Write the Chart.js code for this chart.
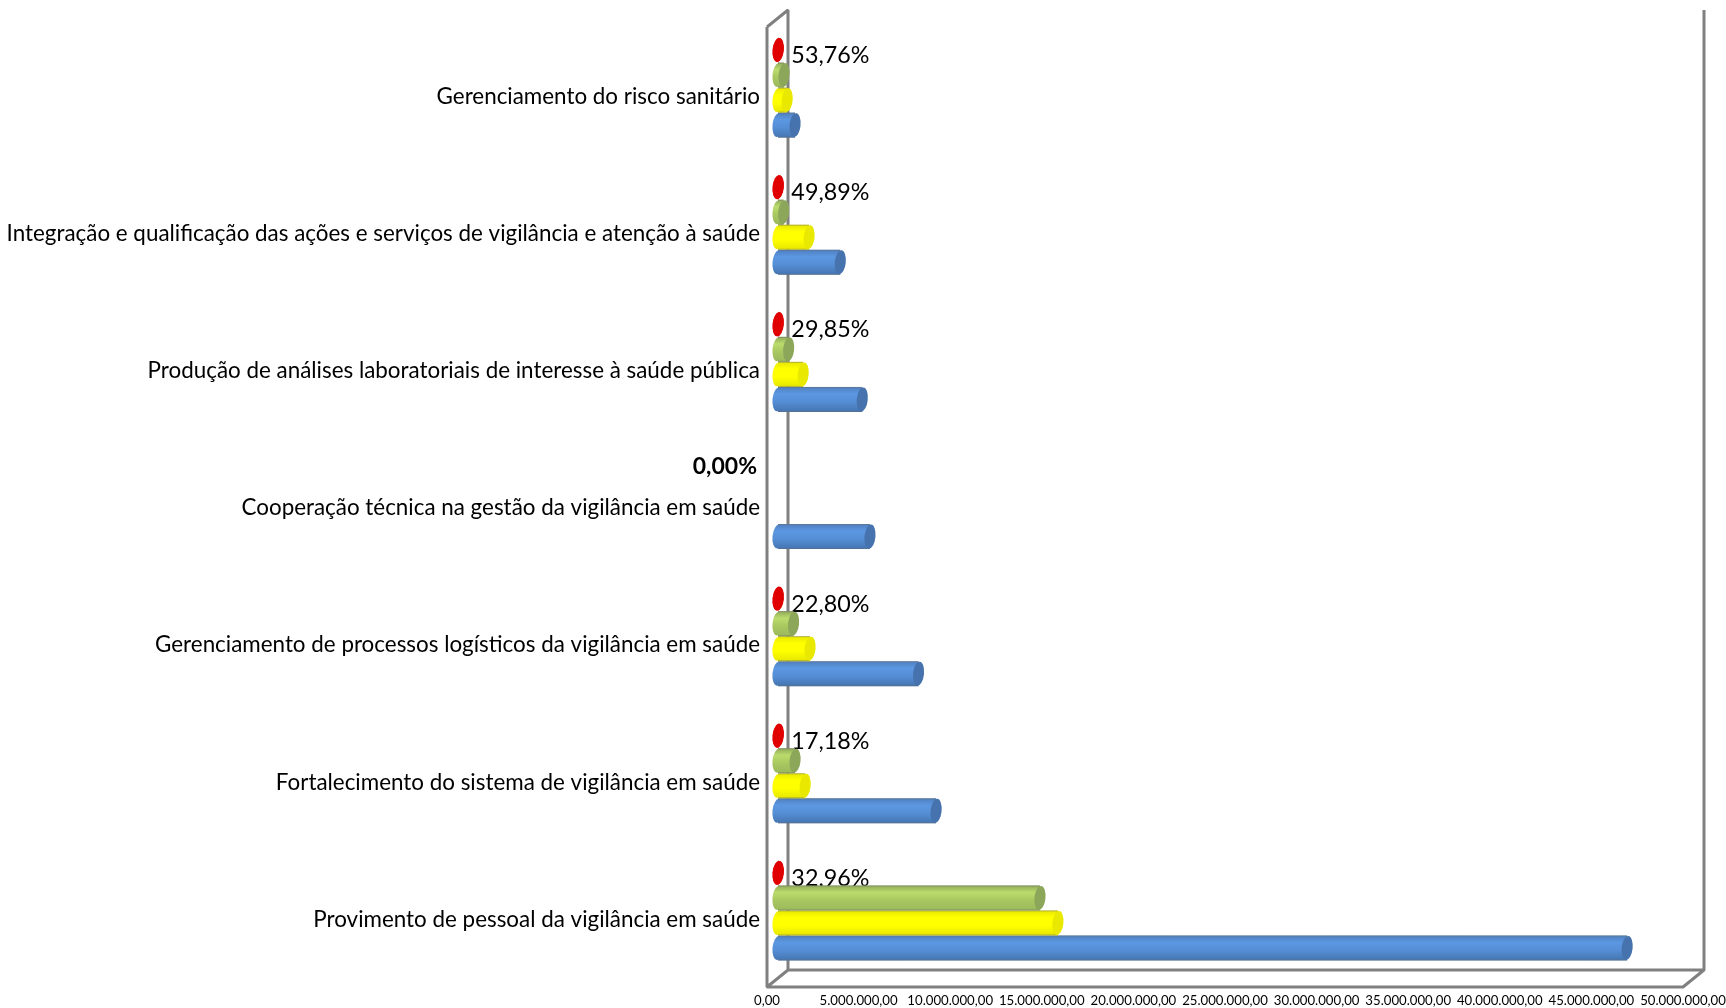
<!DOCTYPE html>
<html><head><meta charset="utf-8">
<script src="https://cdn.jsdelivr.net/npm/chart.js@4"></script>
<style>html,body{margin:0;padding:0;background:#fff}canvas{display:block}</style>
</head><body><canvas id="c" width="1726" height="1008"></canvas>
<script>
const categories = [
  "Gerenciamento do risco sanitário",
  "Integração e qualificação das ações e serviços de vigilância e atenção à saúde",
  "Produção de análises laboratoriais de interesse à saúde pública",
  "Cooperação técnica na gestão da vigilância em saúde",
  "Gerenciamento de processos logísticos da vigilância em saúde",
  "Fortalecimento do sistema de vigilância em saúde",
  "Provimento de pessoal da vigilância em saúde"
];
const blueValues   = [930000, 3400000, 4600000, 5020000, 7670000, 8630000, 46350000];
const yellowValues = [500000, 1696000, 1373000, 0, 1749000, 1483000, 15280000];
const greenValues  = [330000, 310000, 580000, 0, 850000, 930000, 14300000];
const redValues    = [20000, 20000, 20000, 0, 20000, 20000, 20000];
const pctLabels = ["53,76%","49,89%","29,85%","0,00%","22,80%","17,18%","32,96%"];
const xTicks = [0,5,10,15,20,25,30,35,40,45,50].map(m => m * 1000000);
const seriesColors = {
  red:    ["#c80000","#f00000","#d80000","#e00000"],
  green:  ["#8fa85a","#bbdc6c","#a8c860","#9bb85c"],
  yellow: ["#e6e600","#ffff00","#ffff00","#e6e600"],
  blue:   ["#4f7fbe","#5c97e2","#558ed5","#4474b0"]
};
const capColors = {red:"#e00000",green:"#8ca75a",yellow:"#e8e800",blue:"#4673ad"};
const FONT = "Lato";
const depth = {x: 11, y: -9};
function fmt(v){
  const s = Math.round(v).toString().replace(/\B(?=(\d{3})+$)/g,".");
  return s + ",00";
}
function wall(chart){
  const {ctx, chartArea:a} = chart;
  const dx = 21, dy = -17;
  ctx.save();
  ctx.translate(0, -1);
  ctx.strokeStyle = "#808080"; ctx.lineWidth = 3; ctx.lineJoin = "bevel";
  ctx.beginPath();
  ctx.moveTo(a.left, a.top); ctx.lineTo(a.left, a.bottom); ctx.lineTo(a.right, a.bottom);
  ctx.lineTo(a.right+dx, a.bottom+dy); ctx.lineTo(a.right+dx, a.top+dy);
  ctx.moveTo(a.right+dx, a.bottom+dy); ctx.lineTo(a.left+dx, a.bottom+dy);
  ctx.lineTo(a.left, a.bottom);
  ctx.moveTo(a.left+dx, a.bottom+dy); ctx.lineTo(a.left+dx, a.top+dy); ctx.lineTo(a.left, a.top);
  ctx.stroke();
  ctx.restore();
}
function ell(ctx, x, y, rx, ry, fill){
  ctx.beginPath();
  ctx.ellipse(x, y, rx, ry, 0.1, 0, Math.PI*2);
  ctx.fillStyle = fill; ctx.fill();
}
const cylinder = {
  id: "cylinder",
  beforeDatasetsDraw(chart){
    wall(chart);
    const {ctx} = chart;
    const red = chart.getDatasetMeta(0).data;
    ctx.save();
    ctx.fillStyle = "#000"; ctx.textBaseline = "middle";
    pctLabels.forEach((t,i) => {
      const b = red[i];
      if (t === "0,00%"){
        ctx.font = "bold 23px " + FONT; ctx.textAlign = "right";
        ctx.fillText(t, b.x + depth.x - 21, b.y + depth.y + 5);
      } else {
        ctx.font = "23.3px " + FONT; ctx.textAlign = "left";
        ctx.fillText(t, b.x + depth.x + 13, b.y + depth.y + 5.5);
      }
    });
    ctx.restore();
    chart.data.datasets.forEach((ds,di) => {
      const cols = seriesColors[ds.key];
      chart.getDatasetMeta(di).data.forEach(b => {
        const h = b.height;
        const g = ctx.createLinearGradient(0, b.y-h/2, 0, b.y+h/2);
        g.addColorStop(0, cols[0]); g.addColorStop(0.28, cols[1]);
        g.addColorStop(0.6, cols[2]); g.addColorStop(1, cols[3]);
        b.options = Object.assign({}, b.options, {backgroundColor: g});
      });
    });
    ctx.save();
    ctx.translate(depth.x, depth.y);
  },
  beforeDatasetDraw(chart, args){
    const ds = chart.data.datasets[args.index];
    const {ctx} = chart;
    chart.getDatasetMeta(args.index).data.forEach((b,i) => {
      if (!ds.data[i]) return;
      const ry = b.height/2 - 0.5;
      ell(ctx, b.base, b.y, 5.5, ry, b.options.backgroundColor);
    });
  },
  afterDatasetDraw(chart, args){
    const ds = chart.data.datasets[args.index];
    const {ctx} = chart;
    chart.getDatasetMeta(args.index).data.forEach((b,i) => {
      if (!ds.data[i]) return;
      const ry = b.height/2 - 0.5;
      if (ds.key !== "red") {
        ctx.strokeStyle = "rgba(110,110,110,0.45)"; ctx.lineWidth = 1;
        ctx.beginPath();
        ctx.moveTo(b.base, b.y-ry); ctx.lineTo(b.x, b.y-ry);
        ctx.moveTo(b.base, b.y+ry); ctx.lineTo(b.x, b.y+ry);
        ctx.stroke();
      }
      ell(ctx, b.x, b.y, 5.5, ry, capColors[ds.key]);
    });
  },
  afterDatasetsDraw(chart){
    chart.ctx.restore();
  }
};
new Chart(document.getElementById("c"), {
  type: "bar",
  data: {
    labels: categories,
    datasets: [
      {key:"red",    label:"Red",    data: redValues,    backgroundColor: seriesColors.red[3]},
      {key:"green",  label:"Green",  data: greenValues,  backgroundColor: seriesColors.green[2]},
      {key:"yellow", label:"Yellow", data: yellowValues, backgroundColor: seriesColors.yellow[1]},
      {key:"blue",   label:"Blue",   data: blueValues,   backgroundColor: seriesColors.blue[2]}
    ]
  },
  plugins: [cylinder],
  options: {
    indexAxis: "y",
    responsive: false,
    animation: false,
    devicePixelRatio: 1,
    layout: {padding: {top: 28, right: 43, left: 0, bottom: 0}},
    plugins: {legend: {display:false}, tooltip: {enabled:false}, title:{display:false}},
    datasets: {bar: {barPercentage: 1, categoryPercentage: 0.73, borderWidth: 0}},
    scales: {
      x: {
        min: 0, max: 50000000,
        afterFit(s){ s.height = 20; s.paddingLeft = 0; s.paddingRight = 0; },
        afterBuildTicks(s){ s.ticks = xTicks.map(v => ({value:v})); },
        grid: {display:false, drawTicks:false},
        border: {display:false},
        ticks: {
          autoSkip:false, maxRotation:0, minRotation:0, padding: 5,
          color:"#000", font:{family:FONT, size:13.2},
          callback: v => fmt(v)
        }
      },
      y: {
        afterFit(s){ s.width = 767; s.paddingTop = 0; s.paddingBottom = 0; },
        grid: {display:false, drawTicks:false},
        border: {display:false},
        ticks: {
          autoSkip:false, padding: 7, color:"#000", font:{family:FONT, size:22.4}
        }
      }
    }
  }
});
</script></body></html>
